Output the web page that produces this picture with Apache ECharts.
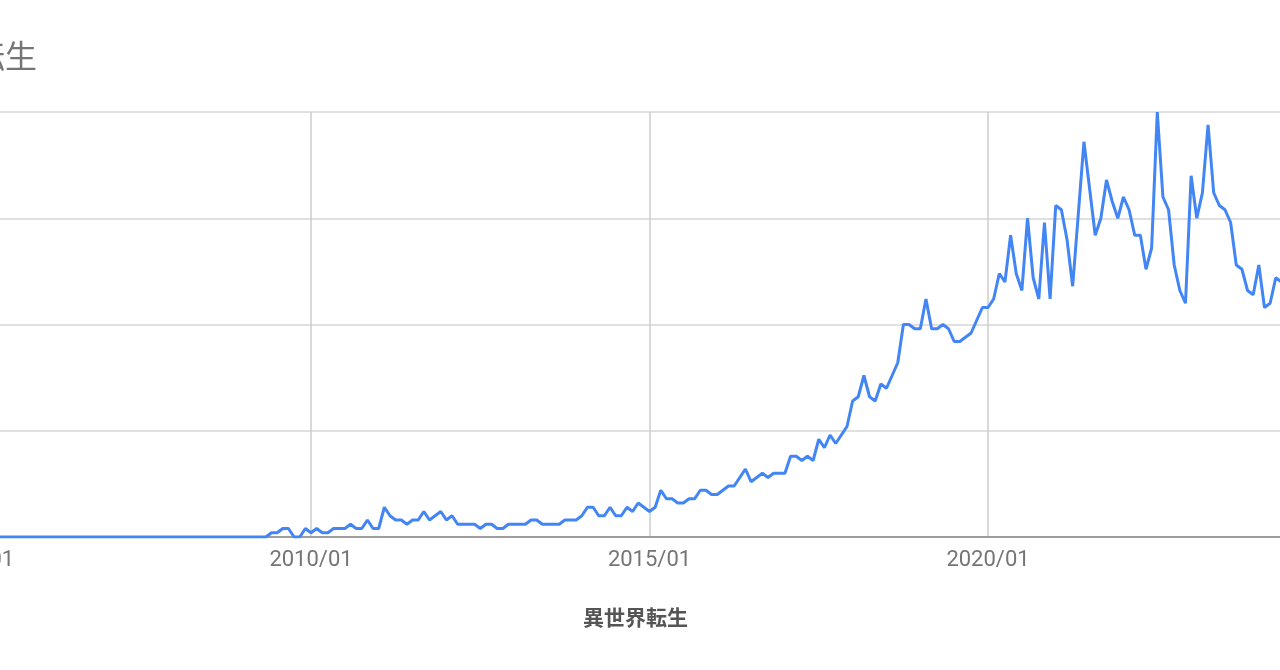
<!DOCTYPE html>
<html>
<head>
<meta charset="utf-8">
<title>異世界転生</title>
<script src="https://cdn.jsdelivr.net/npm/echarts@6/dist/echarts.min.js"></script>
<style>
  html, body { margin: 0; padding: 0; background: #fff; overflow: hidden; }
  #chart { width: 1280px; height: 670px; }
</style>
</head>
<body>
<div id="chart"></div>
<script>
(function () {
    "use strict";

    // Monthly interest, index 0 = 2005/01 (Google Trends style, 0-100)
    var tickYears = ["2005/01", "2010/01", "2015/01", "2020/01"];
    var seriesName = "異世界転生";

    var interest2005to2009 = [
        0, 0, 0, 0, 0, 0, 0, 0, 0, 0, 0, 0,
        0, 0, 0, 0, 0, 0, 0, 0, 0, 0, 0, 0,
        0, 0, 0, 0, 0, 0, 0, 0, 0, 0, 0, 0,
        0, 0, 0, 0, 0, 0, 0, 0, 0, 0, 0, 0,
        0, 0, 0, 0, 0, 1, 1, 2, 2, 0, 0, 2
    ];
    var interest2010to2014 = [
        1, 2, 1, 1, 2, 2, 2, 3, 2, 2, 4, 2,
        2, 7, 5, 4, 4, 3, 4, 4, 6, 4, 5, 6,
        4, 5, 3, 3, 3, 3, 2, 3, 3, 2, 2, 3,
        3, 3, 3, 4, 4, 3, 3, 3, 3, 4, 4, 4,
        5, 7, 7, 5, 5, 7, 5, 5, 7, 6, 8, 7
    ];
    var interest2015to2019 = [
        6, 7, 11, 9, 9, 8, 8, 9, 9, 11, 11, 10,
        10, 11, 12, 12, 14, 16, 13, 14, 15, 14, 15, 15,
        15, 19, 19, 18, 19, 18, 23, 21, 24, 22, 24, 26,
        32, 33, 38, 33, 32, 36, 35, 38, 41, 50, 50, 49,
        49, 56, 49, 49, 50, 49, 46, 46, 47, 48, 51, 54
    ];
    var interest2020to2024 = [
        54, 56, 62, 60, 71, 62, 58, 75, 61, 56, 74, 56,
        78, 77, 70, 59, 76, 93, 82, 71, 75, 84, 79, 75,
        80, 77, 71, 71, 63, 68, 100, 80, 77, 64, 58, 55,
        85, 75, 81, 97, 81, 78, 77, 74, 64, 63, 58, 57,
        64, 54, 55, 61, 60
    ];

    var values = interest2005to2009
        .concat(interest2010to2014, interest2015to2019, interest2020to2024);
    var points = values.map(function (v, i) { return [i, v]; });

    var gray = "#757575";

    var chart = echarts.init(document.getElementById("chart"), null, { renderer: "canvas" });
    chart.setOption({
        animation: false,
        backgroundColor: "#ffffff",
        // The chart is shown cropped: the plot runs past both edges,
        // so let the grid hang outside the canvas.
        grid: {
            left: -27.5, right: -1.4, top: 112, bottom: 133,
            containLabel: false,
            outerBoundsMode: "none"
        },
        graphic: [{
            type: "text",
            x: 37,
            y: 56,
            style: {
                text: seriesName,
                align: "right",
                verticalAlign: "middle",
                fill: gray,
                font: '32px "Noto Sans CJK JP"'
            }
        }],
        xAxis: {
            type: "value",
            min: 0,
            max: values.length - 1,
            interval: 60,
            name: seriesName,
            nameLocation: "middle",
            nameGap: 70,
            nameTextStyle: {
                color: "#555",
                fontSize: 21,
                fontWeight: "bold",
                fontFamily: "Noto Sans CJK JP",
                padding: [0, 0, 0, 17]
            },
            axisLine: { lineStyle: { color: "#9e9e9e", width: 2 } },
            axisTick: { show: false },
            axisLabel: {
                color: gray,
                fontSize: 22,
                fontFamily: "Roboto",
                margin: 12,
                showMaxLabel: false,
                formatter: function (v) {
                    return v % 60 === 0 ? tickYears[v / 60] : "";
                }
            },
            splitLine: { show: true, lineStyle: { color: "#cccccc", width: 1.5 } }
        },
        yAxis: {
            type: "value",
            min: 0,
            max: 100,
            interval: 25,
            axisLine: { show: false },
            axisTick: { show: false },
            axisLabel: { show: false },
            splitLine: { lineStyle: { color: "#e0e0e0", width: 2 } }
        },
        series: [{
            name: seriesName,
            type: "line",
            data: points,
            symbol: "none",
            lineStyle: { color: "#4285f4", width: 3 },
            z: 3
        }]
    });
})();
</script>
</body>
</html>
